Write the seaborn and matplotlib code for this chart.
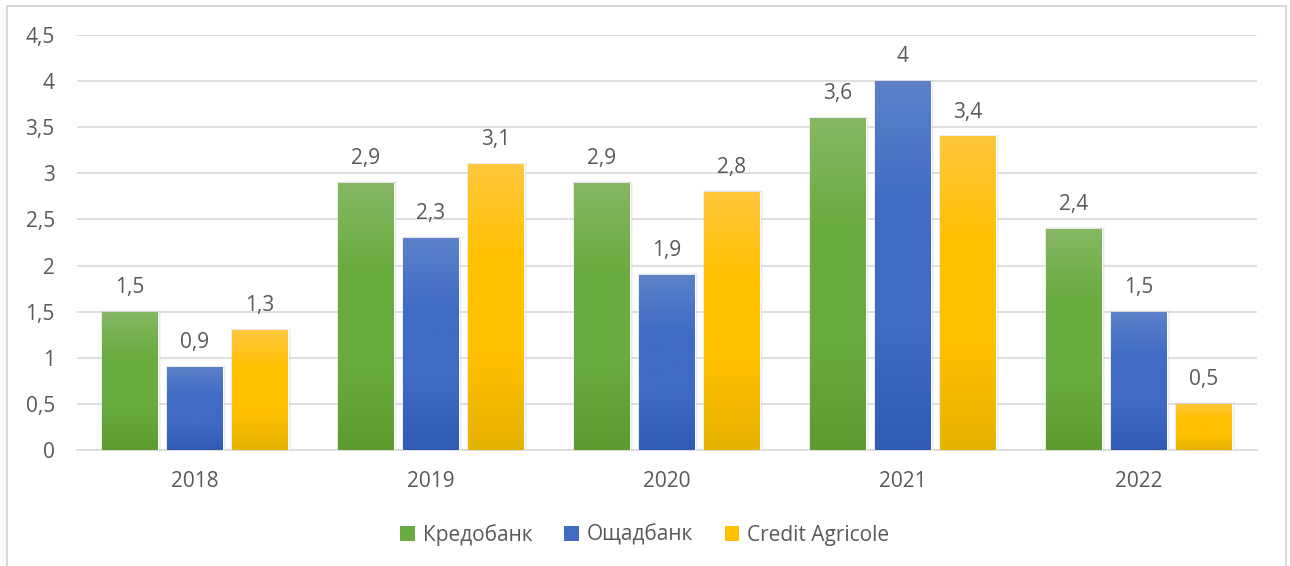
import numpy as np
import pandas as pd
import matplotlib
matplotlib.use('Agg')
import matplotlib.pyplot as plt
import seaborn as sns
from matplotlib.colors import LinearSegmentedColormap
from matplotlib.patches import Rectangle, Patch

# -------------------------------------------------------
# Data
# -------------------------------------------------------
years = ["2018", "2019", "2020", "2021", "2022"]
banks = ["Кредобанк", "Ощадбанк", "Credit Agricole"]
kredobank = [1.5, 2.9, 2.9, 3.6, 2.4]
oschadbank = [0.9, 2.3, 1.9, 4.0, 1.5]
credit_agricole = [1.3, 3.1, 2.8, 3.4, 0.5]

# (top, middle, bottom) gradient colours for each series
gradients = {
    "Кредобанк":       ("#85b865", "#6aab3f", "#5c9b30"),
    "Ощадбанк":        ("#5d82c9", "#3f6bc4", "#2f5bb5"),
    "Credit Agricole": ("#ffc83d", "#ffc000", "#e5b200"),
}
palette = {k: v[1] for k, v in gradients.items()}

df = pd.DataFrame({
    "year": years * 3,
    "bank": [b for b in banks for _ in years],
    "value": kredobank + oschadbank + credit_agricole,
})

text_color = "#595959"
grid_color = "#d9d9d9"

sns.set_theme(style="white")
plt.rcParams['font.family'] = ['Open Sans', 'DejaVu Sans']

fig = plt.figure(figsize=(12.9, 5.66), dpi=100)
ax = fig.add_axes([77 / 1290, 1 - 450 / 566, 1180 / 1290, 415 / 566])

sns.barplot(data=df, x="year", y="value", hue="bank", hue_order=banks,
            palette=palette, width=0.826, gap=0.15, ax=ax, legend=False,
            saturation=1, zorder=3)

ax.set_xlim(-0.5, 4.5)
ax.set_ylim(0, 4.5)
ax.set_yticks(np.arange(0, 4.51, 0.5))
ax.set_yticklabels([f"{v:g}".replace(".", ",") for v in np.arange(0, 4.51, 0.5)])
ax.yaxis.grid(True, color=grid_color, linewidth=1.2, zorder=0)
ax.set_axisbelow(True)
ax.set_xlabel("")
ax.set_ylabel("")
for side in ["left", "right", "top"]:
    ax.spines[side].set_visible(False)
ax.spines["bottom"].set_color(grid_color)
ax.spines["bottom"].set_linewidth(1.2)
ax.tick_params(axis="both", length=0, labelsize=15, labelcolor=text_color)
ax.tick_params(axis="x", pad=15)
ax.tick_params(axis="y", pad=16)

# gradient fill + soft shadow on each bar, then value labels
for container, bank in zip(ax.containers, banks):
    top, mid, bot = gradients[bank]
    cmap = LinearSegmentedColormap.from_list(bank, [bot, mid, mid, top])
    grad = np.linspace(0, 1, 256).reshape(-1, 1)
    for bar in container:
        x0, w, h = bar.get_x(), bar.get_width(), bar.get_height()
        for k, a in [(0.018, 0.10), (0.012, 0.12), (0.006, 0.15)]:
            sh = Rectangle((x0 - k * 0.4, 0), w + k * 1.2, h + k * 0.9,
                           facecolor="#a6a6a6", alpha=a, edgecolor="none",
                           zorder=2)
            ax.add_patch(sh)
        im = ax.imshow(grad, extent=[x0, x0 + w, 0, h], origin="lower",
                       cmap=cmap, aspect="auto", zorder=3.5)
        im.set_clip_path(bar)
    labels = [f"{v:g}".replace(".", ",") for v in container.datavalues]
    ax.bar_label(container, labels=labels, padding=10, fontsize=15,
                 color=text_color)

ax.set_xlim(-0.5, 4.5)
ax.set_ylim(0, 4.5)

handles = [Patch(facecolor=gradients[b][1], edgecolor="none") for b in banks]
fig.legend(handles, banks, loc="center", bbox_to_anchor=(0.5, 1 - 535 / 566),
           ncol=3, frameon=False, fontsize=15, handlelength=0.7,
           handleheight=0.7, handletextpad=0.4, columnspacing=1.5,
           labelcolor=text_color)

# outer chart border
fig.patches.append(Rectangle((7 / 1290, -0.01), 1279 / 1290, 1 - 6 / 566 + 0.01,
                             transform=fig.transFigure, fill=False,
                             edgecolor="#d9d9d9", linewidth=1.5))

fig.savefig("out.png", dpi=100)
